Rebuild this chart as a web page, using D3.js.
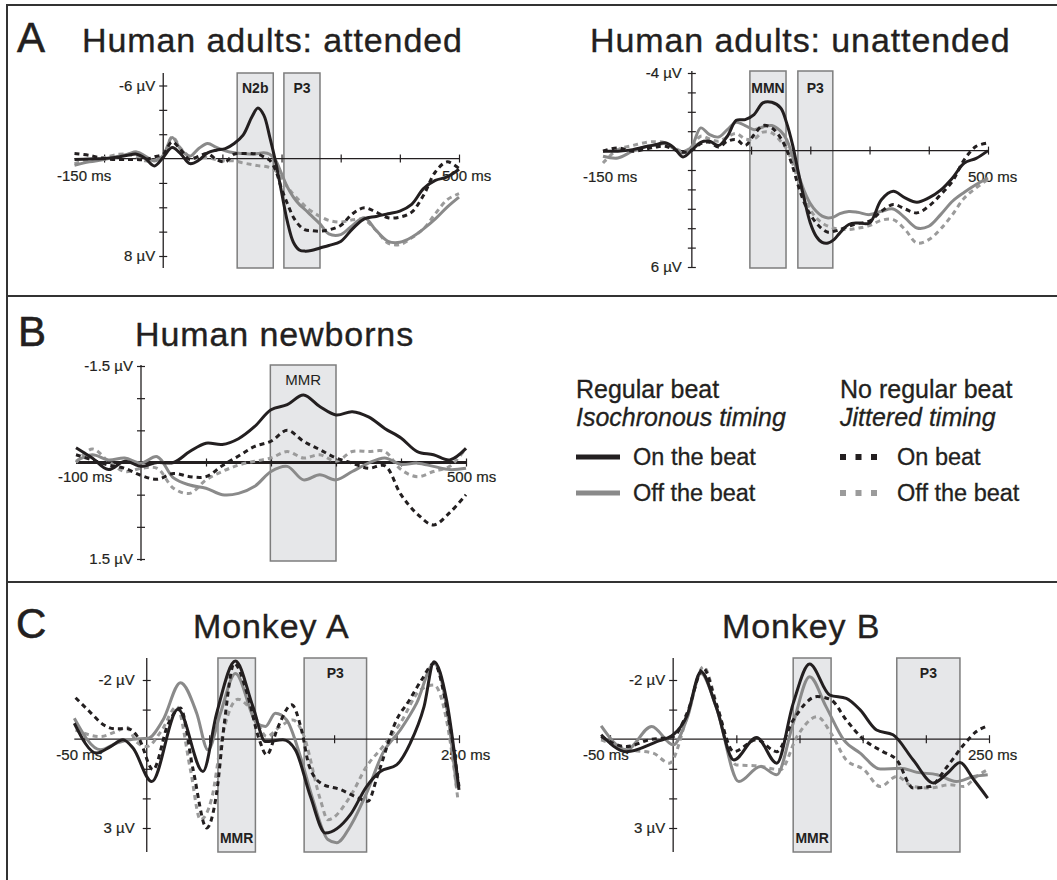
<!DOCTYPE html>
<html>
<head>
<meta charset="utf-8">
<script src="https://cdn.jsdelivr.net/npm/d3@7"></script>
<style>
  body { margin: 0; background: #fff; }
  text { font-family: "Liberation Sans", Arial, Helvetica, sans-serif; fill: #231f20; }
</style>
</head>
<body>
<div id="fig"></div>
<script>
// ---- data (ms, µV; negative is up) ----
var msAdult = [-150,-125,-100,-75,-60,-45,-30,-15,0,15,30,45,60,75,90,105,120,135,150,160,170,180,190,200,210,220,230,240,250,265,280,300,320,340,360,380,400,420,440,460,480,500];

// Human adults: attended
var attRegOn  = [0.08,0.03,0,-0.14,-0.27,-0.36,0,0.6,-0.1,-0.9,-0.36,0.41,0.14,-0.47,-0.69,-0.82,-1.24,-1.92,-3.43,-4.15,-3.57,-1.79,0.27,2.75,5.2,6.87,7.5,7.6,7.55,7.34,7.14,6.8,5.77,4.95,4.75,4.53,4.31,3.76,2.47,1.79,1.51,0.88];
var attRegOff = [0.55,0.27,0.08,-0.19,-0.36,-0.55,-0.19,0.19,-0.27,-1.73,-0.74,-0.19,-0.82,-1.24,-0.91,-0.63,-0.47,-0.41,-0.36,-0.41,-0.47,-0.36,0.14,1.24,2.34,3.16,3.76,4.2,4.67,5.36,6.18,6.24,5.49,4.86,5.91,6.79,6.87,6.46,5.77,4.95,3.98,3.16];
var attJitOn  = [-0.41,-0.27,0,0.08,0.08,0.08,0.08,-0.14,-0.36,-1.37,-0.69,0.08,-0.19,-0.41,0.08,0.27,-0.36,-0.41,-0.41,-0.36,-0.14,0.14,0.96,2.47,3.71,4.81,5.49,5.85,5.91,5.96,5.85,5.49,4.53,4.04,4.4,4.86,4.81,4.4,3.02,1.1,0.27,0.82];
var attJitOff = [0.41,0.08,-0.08,-0.36,-0.36,-0.14,0.19,0.14,-0.19,-1.79,-0.82,-0.19,-0.08,-0.08,0.08,0.19,0.19,0.36,0.49,0.58,0.63,0.74,1.02,1.65,2.34,2.94,3.43,3.93,4.31,4.75,5.08,5.22,5.03,5.03,5.91,6.95,7.06,6.51,5.77,4.53,3.38,2.88];

// Human adults: unattended
var unaRegOn  = [0.03,0.03,-0.05,-0.22,-0.31,-0.4,-0.14,0.33,-0.02,-0.43,-0.48,-0.26,-0.74,-1.56,-1.6,-1.86,-2.46,-2.49,-2.2,-1.43,-0.31,1.15,2.53,3.73,4.42,4.73,4.76,4.59,4.24,3.81,3.73,3.73,2.53,2.1,2.44,2.66,2.44,2.04,1.41,0.64,0.4,0];
var unaRegOff = [0.29,0.38,0.03,-0.22,-0.29,-0.36,-0.09,0.12,-0.22,-1.17,-0.82,-0.7,-1.08,-1.46,-1.29,-1.08,-1.22,-1.29,-1.0,-0.57,0.29,1.24,2.1,2.73,3.13,3.38,3.47,3.42,3.25,3.14,3.18,3.3,3.13,3.01,3.47,3.99,3.9,3.3,2.61,2.15,1.75,1.41];
var unaJitOn  = [0.03,-0.14,0.03,-0.1,-0.19,-0.22,-0.05,0.09,-0.02,-0.36,-0.43,-0.19,-0.48,-0.57,-0.26,-0.82,-1.29,-1.17,-0.65,-0.05,0.81,1.84,2.7,3.3,3.73,4.04,4.21,4.16,4.07,3.9,3.76,3.64,3.13,2.78,3.01,3.21,2.87,2.27,1.58,0.46,-0.22,-0.4];
var unaJitOff = [0.64,-0.05,-0.26,-0.43,-0.46,-0.4,-0.14,0.03,-0.19,-0.74,-0.6,-0.48,-0.7,-0.88,-0.6,-0.6,-0.95,-0.91,-0.48,-0.09,0.64,1.58,2.35,3.04,3.47,3.73,3.9,4.0,4.04,4.07,4.0,3.87,3.59,3.56,4.07,4.76,4.59,4.04,3.3,2.44,1.92,1.49];

// Human newborns
var msNewborn = [-100,-75,-50,-25,0,25,50,75,100,125,150,175,200,225,250,275,300,325,350,375,400,425,450,475,500];
var nbRegOn  = [-0.23,-0.07,0.11,-0.02,0.06,0,0,-0.17,-0.3,-0.28,-0.37,-0.56,-0.82,-0.9,-1.05,-0.87,-0.74,-0.79,-0.71,-0.53,-0.38,-0.17,-0.12,-0.04,-0.22];
var nbRegOff = [-0.02,-0.12,-0.04,-0.07,0.01,-0.09,0.24,0.35,0.4,0.5,0.48,0.37,0.14,0.06,0.27,0.19,0.27,0.14,0.01,-0.07,0.03,0.01,0.06,0.11,0.09];
var nbJitOn  = [-0.12,-0.04,0.04,0.09,0.2,0.26,0.17,0.22,0.22,0.05,-0.1,-0.25,-0.33,-0.5,-0.33,-0.2,-0.07,0.01,0.09,0.05,0.5,0.8,0.97,0.78,0.5];
var nbJitOff = [0,-0.21,-0.02,0.14,0.09,0.09,0.4,0.48,0.27,0.14,0.04,-0.02,-0.07,-0.17,-0.07,-0.12,-0.02,-0.17,-0.17,-0.17,0.11,0.22,0.14,0.06,-0.22];

// Monkey A (turning points)
var monARegOnMs  = [-58,-40,-29,-19,-11,4,25,45,56,71,85,95,109,119,131,143,163,176,187,200,211,222,230,240,250];
var monARegOn    = [-0.54,0.47,0.25,0.02,0.3,1.43,-1.01,1.09,-0.88,-2.64,-1.1,0.08,0.02,0.36,1.93,3.17,2.55,1.6,1.09,0.87,0.13,-1.1,-2.62,-1.33,1.71];
var monARegOffMs = [-58,-37,-24,-11,1,13,27,40,49,59,71,88,95,103,112,123,133,145,152,163,176,189,203,216,230,240,248];
var monARegOff   = [-0.71,0.36,0.13,0,-0.03,-0.65,-1.91,-0.88,0.36,-0.88,-2.22,-0.54,-0.43,-0.88,-0.65,0.58,2.04,3.39,3.5,2.94,1.82,0.47,-0.31,-1.21,-2.56,-1.1,1.6];
var monAJitOnMs  = [-57,-45,-35,-25,-15,-6,5,17,27,37,48,56,62,70,80,90,96,105,116,124,130,140,155,170,177,185,200,210,220,230,240,250];
var monAJitOn    = [-1.4,-0.9,-0.5,-0.35,-0.35,0,1.03,-0.5,-1.05,1.0,3.0,1.8,-0.5,-2.56,-1.6,0,0.53,-0.4,-1.16,-0.3,0.9,1.5,1.7,2.0,2.1,1.2,-0.65,-1.3,-2.0,-2.56,-1.1,1.6];
var monAJitOffMs = [-57,-37,-25,-16,-8,0,12,24,35,43,52,60,73,85,96,106,117,125,139,145,163,176,189,203,219,230,240,249];
var monAJitOff   = [-0.31,-0.09,-0.25,-0.4,0.1,0.25,-0.3,-1.1,1.04,2.72,2.0,0,-1.35,-0.9,-0.09,-0.4,-0.65,-0.2,2.04,2.72,1.93,0.92,0.25,-0.54,-1.66,-1.83,-0.65,1.99];

// Monkey B (turning points)
var monBRegOnMs  = [-57,-37,-13,0,11,22,34,48,66,82,95,108,124,137,148,161,174,190,206,217,227,238,249];
var monBRegOn    = [-0.15,0.42,0.08,-0.15,-0.8,-2.28,-1.1,0.7,-0.06,0.81,-1.21,-2.54,-1.49,-1.38,-0.99,-0.31,-0.15,0.7,1.48,1.15,0.79,1.37,1.99];
var monBRegOffMs = [-57,-37,-17,0,11,22,34,52,69,82,95,108,121,135,148,164,180,193,209,224,238,249];
var monBRegOff   = [-0.45,0.36,-0.43,0.19,-0.7,-2.22,-1.1,1.43,0.92,1.2,-0.54,-2.11,-1.1,0.02,0.47,1.01,0.98,1.12,1.2,1.43,1.26,1.2];
var monBJitOnMs  = [-57,-37,-19,0,11,24,34,48,66,82,95,114,125,137,151,166,177,190,203,217,230,240,249];
var monBJitOn    = [-0.09,0.25,0.02,-0.09,-0.88,-2.39,-1.21,0.42,0.02,0.42,-0.65,-1.44,-1.33,-0.65,0.02,0.42,0.7,1.65,1.6,0.92,0.19,-0.26,-0.45];
var monBJitOffMs = [-57,-34,-16,-3,11,24,35,50,66,85,98,114,125,137,151,164,177,190,203,219,230,240,249];
var monBJitOff   = [0.02,0.36,0.47,0.81,-0.75,-2.45,-1.1,0.87,0.9,1.03,-0.09,-0.76,-0.2,0.7,1.03,1.6,1.26,1.6,1.65,1.54,1.6,1.26,1.03];

// analysis windows (ms)
var attWindows = [{name: "N2b", from: 125, to: 186}, {name: "P3", from: 204, to: 265}];
var unaWindows = [{name: "MMN", from: 98, to: 159}, {name: "P3", from: 179, to: 238}];
var nbWindows  = [{name: "MMR", from: 199, to: 300}];
var monAWindows = [{name: "MMR", from: 57, to: 87}, {name: "P3", from: 126, to: 176}];
var monBWindows = [{name: "MMR", from: 95, to: 125}, {name: "P3", from: 177, to: 227}];

// legend text
var legendHeads = [["Regular beat", "Isochronous timing"], ["No regular beat", "Jittered timing"]];
var legendKeys = [["regOn", "On the beat"], ["regOff", "Off the beat"], ["jitOn", "On beat"], ["jitOff", "Off the beat"]];

// ---- styles ----
var black = "#231f20";
var styles = {
  regOn:  {color: black,     dash: null},
  regOff: {color: "#8a8a8a", dash: null},
  jitOn:  {color: black,     dash: "5,4"},
  jitOff: {color: "#9b9b9b", dash: "5,4"}
};
var drawOrder = ["jitOff", "regOff", "jitOn", "regOn"];

var svg = d3.select("#fig").append("svg")
  .attr("width", 1057)
  .attr("height", 880);

// frame and separators
svg.append("path")
  .attr("d", "M7,880V5H1057")
  .attr("fill", "none")
  .attr("stroke", "#333")
  .attr("stroke-width", 2);
[296, 582].forEach(function(yy) {
  svg.append("line")
    .attr("x1", 7).attr("x2", 1057)
    .attr("y1", yy).attr("y2", yy)
    .attr("stroke", "#333").attr("stroke-width", 2);
});

function drawPanel(p) {
  var x = d3.scaleLinear().domain(p.xDomain).range(p.xRange);
  var y = d3.scaleLinear().domain(p.yDomain).range(p.yRange);
  var g = svg.append("g");
  var x0 = x(0), y0 = y(0);

  // titles
  if (p.letter) {
    g.append("text").attr("x", p.letterX).attr("y", p.titleY)
      .attr("font-size", 42).attr("stroke", black).attr("stroke-width", 0.6)
      .text(p.letter);
  }
  g.append("text").attr("x", p.titleX).attr("y", p.titleY)
    .attr("font-size", 34).attr("letter-spacing", 0.9)
    .attr("stroke", black).attr("stroke-width", 0.35)
    .text(p.title);

  // windows
  g.selectAll(".win").data(p.windows).enter().append("rect")
    .attr("class", "win")
    .attr("x", function(d) { return x(d.from); })
    .attr("width", function(d) { return x(d.to) - x(d.from); })
    .attr("y", p.top)
    .attr("height", p.bottom - p.top)
    .attr("fill", "#e6e7e9")
    .attr("stroke", "#7d7d7d")
    .attr("stroke-width", 1.5);

  g.selectAll(".winlabel").data(p.windows).enter().append("text")
    .attr("class", "winlabel")
    .attr("x", function(d) { return (x(d.from) + x(d.to)) / 2; })
    .attr("y", function(d) { return d.name === "MMR" && p.mmrBottom ? p.bottom - 9 : p.top + p.winLabelDy; })
    .attr("text-anchor", "middle")
    .attr("font-size", p.winBold ? 14 : 15)
    .attr("font-weight", p.winBold ? "bold" : "normal")
    .text(function(d) { return d.name; });

  // axes
  var firstMs = d3.min(p.series, function(s) { return s.ms[0]; });
  g.append("line")
    .attr("x1", x(Math.min(firstMs, p.xDomain[0]))).attr("x2", x(p.xDomain[1]))
    .attr("y1", y0).attr("y2", y0)
    .attr("stroke", black).attr("stroke-width", p.xAxisWidth || 1.3);
  g.append("line")
    .attr("x1", x0).attr("x2", x0)
    .attr("y1", p.top).attr("y2", p.bottom)
    .attr("stroke", black).attr("stroke-width", 1.3);

  var xa = g.append("g")
    .attr("transform", "translate(0," + (y0 - 4) + ")")
    .call(d3.axisBottom(x).tickValues(p.xTicks).tickSize(8).tickFormat(""));
  var ya = g.append("g")
    .attr("transform", "translate(" + (x0 - 4) + ",0)")
    .call(d3.axisRight(y).tickValues(p.yTicks).tickSize(8).tickFormat(""));
  [xa, ya].forEach(function(a) {
    a.select(".domain").remove();
    a.selectAll(".tick line").attr("stroke", black).attr("stroke-width", 1.2);
  });

  // axis end labels
  p.xDomain.forEach(function(v, i) {
    g.append("text")
      .attr("x", x(v) + p.xLabelDx[i])
      .attr("y", y0 + p.xLabelDy)
      .attr("font-size", 15)
      .attr("stroke", black).attr("stroke-width", 0.2)
      .text(v + " ms");
  });
  p.yDomain.forEach(function(v) {
    g.append("text")
      .attr("x", x0 - p.yLabelDx)
      .attr("y", y(v))
      .attr("dy", "0.36em")
      .attr("text-anchor", "end")
      .attr("font-size", 15)
      .attr("stroke", black).attr("stroke-width", 0.2)
      .text(v + " \u00b5V");
  });

  // waveforms
  var line = d3.line()
    .x(function(d) { return x(d[0]); })
    .y(function(d) { return y(d[1]); })
    .curve(p.curve);

  drawOrder.forEach(function(key) {
    var s = p.series.filter(function(d) { return d.key === key; })[0];
    var pts = s.ms.map(function(m, i) { return [m, s.uv[i]]; });
    g.append("path")
      .datum(pts)
      .attr("d", line)
      .attr("fill", "none")
      .attr("stroke", styles[key].color)
      .attr("stroke-width", 3)
      .attr("stroke-dasharray", styles[key].dash)
      .attr("stroke-linejoin", "round");
  });
}

var smooth = d3.curveCatmullRom.alpha(0.5);

drawPanel({
  letter: "A", letterX: 17, title: "Human adults: attended", titleX: 82, titleY: 52,
  xDomain: [-150, 500], xRange: [74.5, 459], yDomain: [-6, 8], yRange: [85.5, 256],
  top: 73, bottom: 268, xTicks: [-100, 100, 200, 300, 400, 500], yTicks: [-6, -4, -2, 2, 4, 6, 8],
  xLabelDx: [-17.5, -17], xLabelDy: 22, yLabelDx: 8,
  windows: attWindows, winBold: true, winLabelDy: 20, curve: smooth,
  series: [
    {key: "regOn", ms: msAdult, uv: attRegOn}, {key: "regOff", ms: msAdult, uv: attRegOff},
    {key: "jitOn", ms: msAdult, uv: attJitOn}, {key: "jitOff", ms: msAdult, uv: attJitOff}
  ]
});

drawPanel({
  title: "Human adults: unattended", titleX: 590, titleY: 52,
  xDomain: [-150, 500], xRange: [603, 988], yDomain: [-4, 6], yRange: [73, 267],
  top: 71, bottom: 268, xTicks: [100, 200, 300, 400, 500], yTicks: [-4, -3, -2, -1, 1, 2, 3, 4, 5, 6],
  xLabelDx: [-20, -20], xLabelDy: 31, yLabelDx: 10,
  windows: unaWindows, winBold: true, winLabelDy: 22, curve: smooth,
  series: [
    {key: "regOn", ms: msAdult, uv: unaRegOn}, {key: "regOff", ms: msAdult, uv: unaRegOff},
    {key: "jitOn", ms: msAdult, uv: unaJitOn}, {key: "jitOff", ms: msAdult, uv: unaJitOff}
  ]
});

drawPanel({
  letter: "B", letterX: 18, title: "Human newborns", titleX: 135, titleY: 346,
  xDomain: [-100, 500], xRange: [76, 466], yDomain: [-1.5, 1.5], yRange: [366, 559],
  top: 365, bottom: 561, xTicks: [100, 200, 300, 400, 500], yTicks: [-1.5, -1, -0.5, 0.5, 1, 1.5],
  xLabelDx: [-18, -19], xLabelDy: 19, yLabelDx: 8, xAxisWidth: 3.2,
  windows: nbWindows, winBold: false, winLabelDy: 20, curve: smooth,
  series: [
    {key: "regOn", ms: msNewborn, uv: nbRegOn}, {key: "regOff", ms: msNewborn, uv: nbRegOff},
    {key: "jitOn", ms: msNewborn, uv: nbJitOn}, {key: "jitOff", ms: msNewborn, uv: nbJitOff}
  ]
});

drawPanel({
  letter: "C", letterX: 16, title: "Monkey A", titleX: 193, titleY: 638,
  xDomain: [-50, 250], xRange: [84.3, 459], yDomain: [-2, 3], yRange: [680, 828],
  top: 658, bottom: 852, xTicks: [-50, 50, 100, 150, 200, 250], yTicks: [-2, -1, 1, 2, 3],
  xLabelDx: [-28, -18], xLabelDy: 21, yLabelDx: 12,
  windows: monAWindows, winBold: true, winLabelDy: 20, mmrBottom: true, curve: d3.curveMonotoneX,
  series: [
    {key: "regOn", ms: monARegOnMs, uv: monARegOn}, {key: "regOff", ms: monARegOffMs, uv: monARegOff},
    {key: "jitOn", ms: monAJitOnMs, uv: monAJitOn}, {key: "jitOff", ms: monAJitOffMs, uv: monAJitOff}
  ]
});

drawPanel({
  title: "Monkey B", titleX: 722, titleY: 638,
  xDomain: [-50, 250], xRange: [610, 989], yDomain: [-2, 3], yRange: [680, 828],
  top: 658, bottom: 852, xTicks: [-50, 50, 100, 150, 200, 250], yTicks: [-2, -1, 1, 2, 3],
  xLabelDx: [-27, -21], xLabelDy: 21, yLabelDx: 8,
  windows: monBWindows, winBold: true, winLabelDy: 20, mmrBottom: true, curve: d3.curveMonotoneX,
  series: [
    {key: "regOn", ms: monBRegOnMs, uv: monBRegOn}, {key: "regOff", ms: monBRegOffMs, uv: monBRegOff},
    {key: "jitOn", ms: monBJitOnMs, uv: monBJitOn}, {key: "jitOff", ms: monBJitOffMs, uv: monBJitOff}
  ]
});

// ---- legend ----
var legend = svg.append("g");
var colX = [576, 840];
legendHeads.forEach(function(h, i) {
  legend.append("text").attr("x", colX[i]).attr("y", 398)
    .attr("font-size", 25).attr("stroke", black).attr("stroke-width", 0.3)
    .text(h[0]);
  legend.append("text").attr("x", colX[i]).attr("y", 426)
    .attr("font-size", 25).attr("font-style", "italic").attr("stroke", black).attr("stroke-width", 0.3)
    .text(h[1]);
});
legendKeys.forEach(function(k, i) {
  var col = Math.floor(i / 2), row = i % 2;
  var ly = 457 + row * 36;
  var st = styles[k[0]];
  var dashed = st.dash !== null;
  legend.append("line")
    .attr("x1", colX[col]).attr("x2", colX[col] + (dashed ? 37 : 44))
    .attr("y1", ly).attr("y2", ly)
    .attr("stroke", st.color)
    .attr("stroke-width", dashed ? 6 : 5)
    .attr("stroke-dasharray", dashed ? "6,9.5" : null);
  legend.append("text")
    .attr("x", colX[col] + 57)
    .attr("y", ly + 8)
    .attr("font-size", 23.5)
    .attr("stroke", black).attr("stroke-width", 0.3)
    .text(k[1]);
});
</script>
</body>
</html>
